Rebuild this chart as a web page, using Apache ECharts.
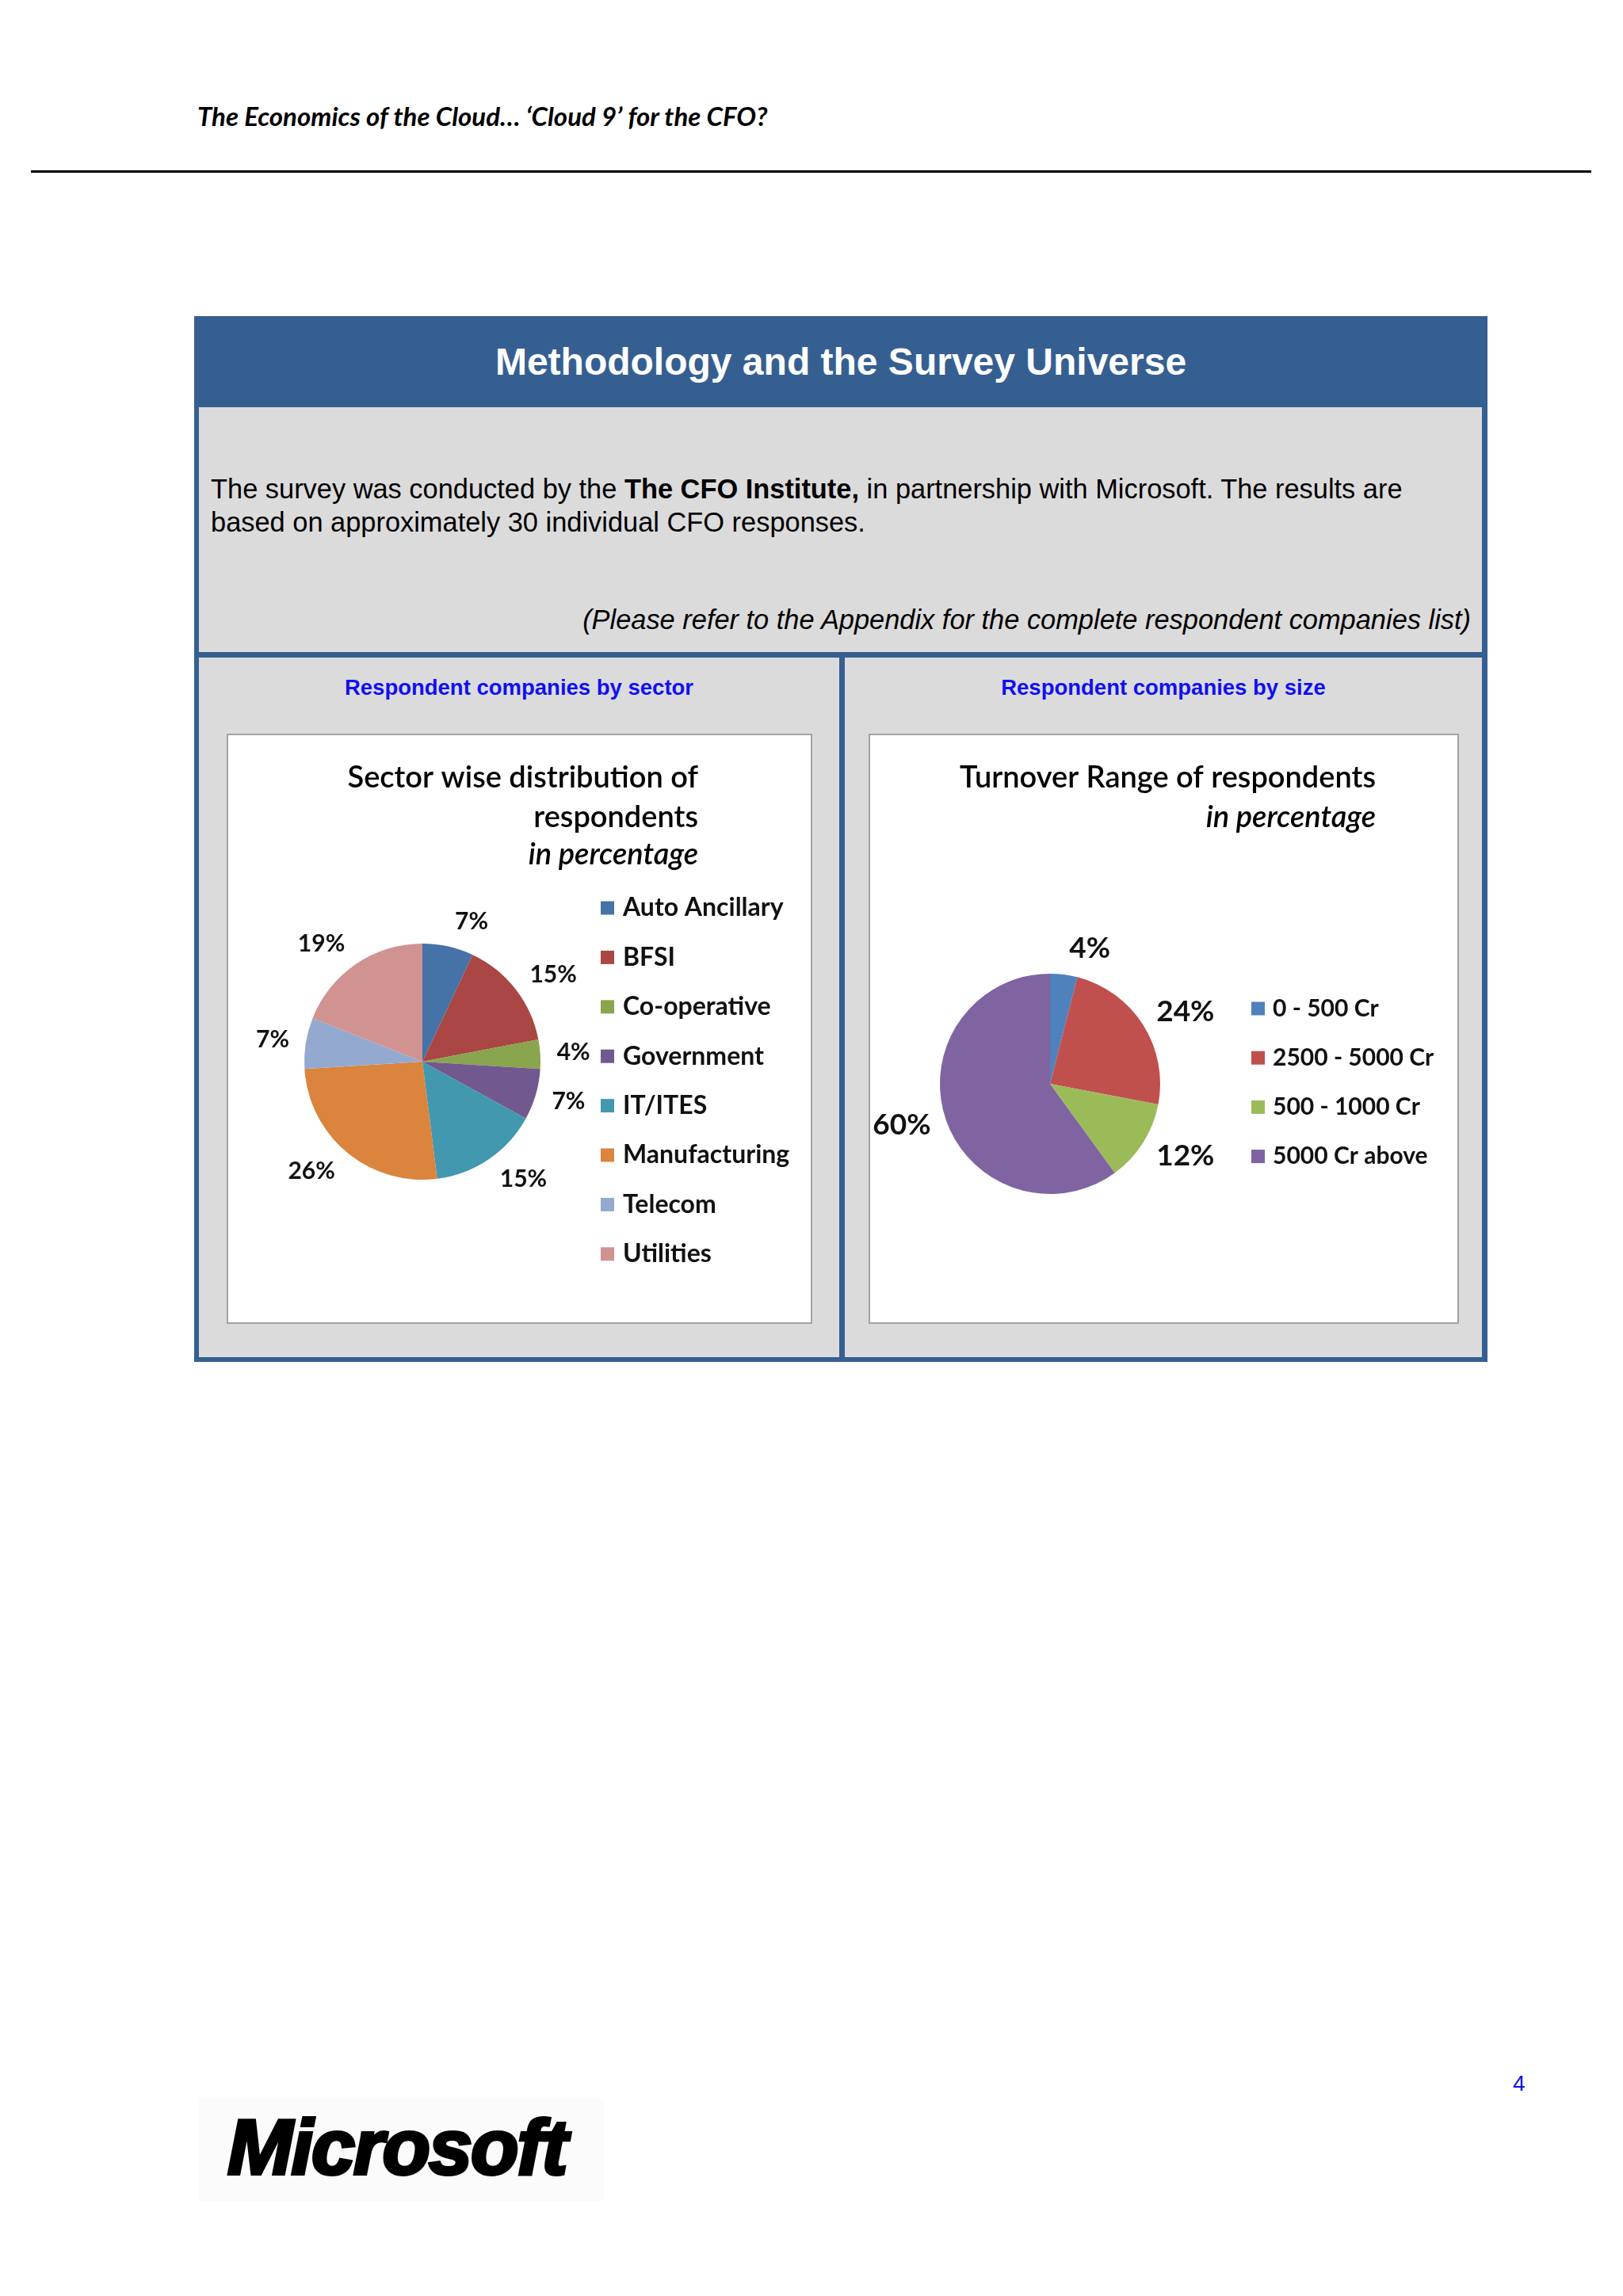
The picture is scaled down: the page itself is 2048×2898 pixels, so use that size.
<!DOCTYPE html>
<html>
<head>
<meta charset="utf-8">
<script src="https://cdn.jsdelivr.net/npm/echarts@6/dist/echarts.min.js"></script>
<style>
  html, body { margin:0; padding:0; background:#ffffff; }
  body { width:2048px; height:2898px; position:relative; overflow:hidden; font-family:"Liberation Sans", Arial, sans-serif; }
  .abs { position:absolute; }
  #hdr { left:249px; top:130px; font-family:Lato, "Open Sans", sans-serif; font-weight:bold; font-style:italic; font-size:33px; line-height:33px; color:#000; white-space:nowrap; }
  #hline { left:39px; top:215px; width:1969px; height:3px; background:#000; }
  #box { left:245px; top:399px; width:1632px; height:1320px; background:#365f91; }
  #titlebar { left:245px; top:399px; width:1632px; height:115px; display:flex; align-items:center; justify-content:center; color:#fff; font-weight:bold; font-size:48px; }
  #gray1 { left:251px; top:514px; width:1619px; height:309px; background:#dcdbdc; }
  #gl { left:251px; top:830px; width:808px; height:883px; background:#dcdbdc; }
  #gr { left:1066px; top:830px; width:804px; height:883px; background:#dcdbdc; }
  #body1 { left:266px; top:596px; font-size:34.4px; line-height:42px; color:#000; white-space:nowrap; }
  #note { left:251px; top:761px; width:1605px; text-align:right; font-style:italic; font-size:34.4px; line-height:42px; color:#000; white-space:nowrap; }
  .cap { top:853px; text-align:center; font-weight:bold; font-size:27.5px; line-height:30px; color:#1010f0; }
  .frame { background:#ffffff; border:2px solid #a3a3a3; box-sizing:border-box; }
  #pnum { left:1909px; top:2616px; font-size:28px; line-height:28px; color:#1010f0; }
  #logobg { left:251px; top:2648px; width:511px; height:130px; background:#fbfbfb; }
  #logo { left:287px; top:2660px; font-family:"Liberation Sans", Arial, sans-serif; font-weight:bold; font-style:italic; font-size:99px; line-height:99px; letter-spacing:-2px; color:#000; -webkit-text-stroke:4px #000; white-space:nowrap; }
</style>
</head>
<body>
<div id="hdr" class="abs">The Economics of the Cloud… ‘Cloud 9’ for the CFO?</div>
<div id="hline" class="abs"></div>

<div id="box" class="abs"></div>
<div id="titlebar" class="abs">Methodology and the Survey Universe</div>
<div id="gray1" class="abs"></div>
<div id="gl" class="abs"></div>
<div id="gr" class="abs"></div>
<div id="body1" class="abs">The survey was conducted by the <b>The CFO Institute,</b> in partnership with Microsoft. The results are<br>based on approximately 30 individual CFO responses.</div>
<div id="note" class="abs">(Please refer to the Appendix for the complete respondent companies list)</div>
<div class="abs cap" style="left:251px;width:808px;">Respondent companies by sector</div>
<div class="abs cap" style="left:1066px;width:804px;">Respondent companies by size</div>

<div class="abs frame" style="left:286px;top:926px;width:739px;height:745px;"></div>
<div class="abs frame" style="left:1096px;top:926px;width:745px;height:745px;"></div>
<div id="c1" class="abs" style="left:286px;top:926px;width:739px;height:745px;"></div>
<div id="c2" class="abs" style="left:1096px;top:926px;width:745px;height:745px;"></div>

<div id="pnum" class="abs">4</div>
<div id="logobg" class="abs"></div>
<div id="logo" class="abs">Microsoft</div>

<script>
// ---- data ----
const sectorTitle = ['Sector wise distribution of', 'respondents', 'in percentage'];
const sectorCategories = ['Auto Ancillary', 'BFSI', 'Co-operative', 'Government', 'IT/ITES', 'Manufacturing', 'Telecom', 'Utilities'];
const sectorValues = [7, 15, 4, 7, 15, 26, 7, 19];
const sectorColors = ['#4572a7', '#aa4643', '#89a54e', '#71588f', '#4198af', '#db843d', '#93a9cf', '#d19392'];

const sizeTitle = ['Turnover Range of respondents', 'in percentage'];
const sizeCategories = ['0 - 500 Cr', '2500 - 5000 Cr', '500 - 1000 Cr', '5000 Cr above'];
const sizeValues = [4, 24, 12, 60];
const sizeColors = ['#4f81bd', '#c0504d', '#9bbb59', '#8064a2'];

const chartFont = 'Lato, "Open Sans", sans-serif';

function titleGraphics(lines, rightX, ys, size) {
  return lines.map((t, i) => ({
    type: 'text',
    x: rightX, y: ys[i],
    silent: true,
    style: {
      text: t,
      font: (t === 'in percentage' ? 'italic ' : '') + '600 ' + size + 'px ' + chartFont,
      fill: '#000',
      align: 'right',
      verticalAlign: 'middle'
    }
  }));
}

function makeOption(cfg) {
  const cx = cfg.center[0], cy = cfg.center[1];
  return {
    animation: false,
    color: cfg.colors,
    graphic: titleGraphics(cfg.title, cfg.titleRight, cfg.titleYs, 38),
    legend: {
      orient: 'vertical',
      left: cfg.legendLeft,
      top: cfg.legendTop,
      itemWidth: 17,
      itemHeight: 17,
      itemGap: cfg.legendGap,
      icon: 'rect',
      selectedMode: false,
      textStyle: { fontFamily: chartFont, fontSize: cfg.legendSize, fontWeight: 'bold', color: '#111', lineHeight: 30, padding: [0, 0, 0, cfg.legendPad] },
      data: cfg.categories
    },
    series: [{
      type: 'pie',
      center: cfg.center,
      radius: cfg.radius,
      startAngle: 90,
      clockwise: true,
      silent: true,
      itemStyle: { borderWidth: 0 },
      label: {
        show: true,
        position: 'outside',
        formatter: '{c}%',
        fontFamily: chartFont,
        fontSize: cfg.labelSize,
        fontWeight: 'bold',
        color: '#111',
        width: 140,
        overflow: 'none'
      },
      labelLine: { show: false, length: cfg.lineLen, length2: 0 },
      labelLayout: function (p) {
        const r = p.labelRect;
        const lx = r.x + r.width / 2, ly = r.y + r.height / 2;
        const d = Math.hypot(lx - cx, ly - cy) || 1;
        const s = (ly - cy) / d;
        return { y: ly + s * r.height * 0.55 };
      },
      data: cfg.categories.map((n, i) => ({ name: n, value: cfg.values[i] }))
    }]
  };
}

const c1 = echarts.init(document.getElementById('c1'));
c1.setOption(makeOption({
  colors: sectorColors,
  title: sectorTitle, titleRight: 595, titleYs: [56, 106, 153],
  legendLeft: 467, legendTop: 199, legendSize: 32, legendPad: 6, legendGap: 30.4,
  categories: sectorCategories, values: sectorValues,
  center: [247, 414], radius: 149, labelSize: 30, lineLen: 16
}));

const c2 = echarts.init(document.getElementById('c2'));
c2.setOption(makeOption({
  colors: sizeColors,
  title: sizeTitle, titleRight: 640, titleYs: [56, 106],
  legendLeft: 478, legendTop: 327, legendSize: 30, legendPad: 5, legendGap: 32.2,
  categories: sizeCategories, values: sizeValues,
  center: [229, 442], radius: 139, labelSize: 37, lineLen: 14
}));
</script>
</body>
</html>
